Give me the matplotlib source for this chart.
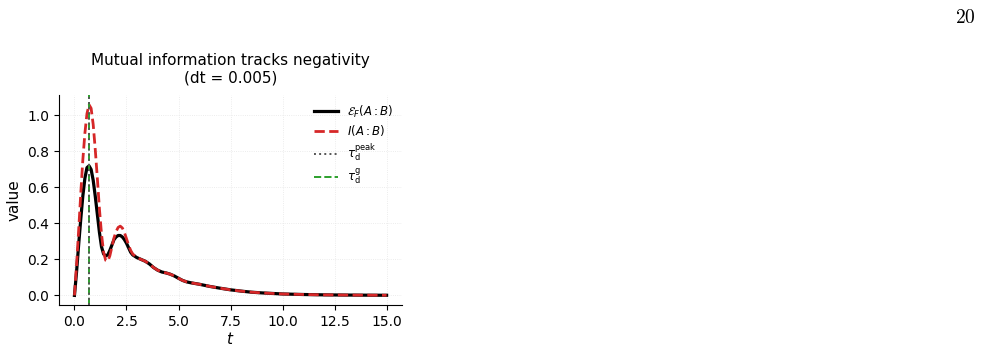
import matplotlib
matplotlib.use("Agg")
import matplotlib.pyplot as plt

t_vals = [0, 0.1, 0.2, 0.3, 0.4, 0.5, 0.6, 0.7, 0.8, 0.9, 1.0, 1.1, 1.2, 1.3, 1.4, 1.5,
          1.6, 1.7, 1.8, 1.9, 2.0, 2.1, 2.2, 2.3, 2.4, 2.5, 2.6, 2.7, 2.8, 3.0, 3.2, 3.4,
          3.6, 3.8, 4.0, 4.2, 4.4, 4.6, 4.8, 5.0, 5.2, 5.4, 5.6, 6.0, 6.5, 7.0, 7.5, 8.0,
          8.5, 9.0, 9.5, 10, 11, 12, 13, 14, 15]
neg_vals = [0, 0.13, 0.28, 0.42, 0.55, 0.65, 0.71, 0.72, 0.70, 0.64, 0.55, 0.45, 0.35, 0.27,
            0.23, 0.22, 0.225, 0.25, 0.28, 0.31, 0.325, 0.333, 0.333, 0.325, 0.31, 0.29,
            0.265, 0.24, 0.225, 0.21, 0.20, 0.19, 0.175, 0.155, 0.14, 0.13, 0.125, 0.118,
            0.108, 0.095, 0.083, 0.075, 0.07, 0.062, 0.05, 0.04, 0.031, 0.024, 0.018, 0.014,
            0.011, 0.008, 0.005, 0.003, 0.002, 0.0013, 0.0008]
mi_vals = [0, 0.17, 0.36, 0.56, 0.75, 0.90, 1.01, 1.06, 1.04, 0.95, 0.81, 0.65, 0.48, 0.34,
           0.24, 0.195, 0.19, 0.22, 0.27, 0.32, 0.355, 0.378, 0.385, 0.375, 0.35, 0.315,
           0.28, 0.25, 0.23, 0.21, 0.20, 0.19, 0.175, 0.155, 0.14, 0.13, 0.125, 0.118,
           0.108, 0.095, 0.083, 0.075, 0.07, 0.062, 0.05, 0.04, 0.031, 0.024, 0.018, 0.014,
           0.011, 0.008, 0.005, 0.003, 0.002, 0.0013, 0.0008]
tau_peak = 0.72
tau_g = 0.72

fig = plt.figure(figsize=(9.81, 3.55), dpi=100)
ax = fig.add_axes([0.060, 0.141, 0.350, 0.591])

ax.plot(t_vals, neg_vals, color="black", lw=2.3, label=r"$\mathcal{E}_F(A:B)$", zorder=3)
ax.plot(t_vals, mi_vals, color="#d62728", lw=2.0, ls="--", label=r"$I(A:B)$", zorder=4)
ax.axvline(tau_peak, color="#555555", lw=1.4, ls=":", label=r"$\tau_{\rm d}^{\rm peak}$", zorder=6)
ax.axvline(tau_g, color="#2ca02c", lw=1.4, ls="--", label=r"$\tau_{\rm d}^{\rm g}$", zorder=5)

ax.set_xticks([0, 2.5, 5, 7.5, 10, 12.5, 15])
ax.set_yticks([0, 0.2, 0.4, 0.6, 0.8, 1.0])
ax.tick_params(labelsize=10, direction="out", length=3.5)
ax.grid(True, ls=":", lw=0.6, color="#e6e6e6")
for s in ("top", "right"):
    ax.spines[s].set_visible(False)
ax.set_xlabel(r"$t$", fontsize=11, labelpad=2)
ax.set_ylabel("value", fontsize=11)
ax.set_title("Mutual information tracks negativity\n(dt = 0.005)", fontsize=11, pad=9)
ax.legend(loc="upper right", frameon=False, fontsize=8.5, handlelength=2.0,
          labelspacing=0.3, borderaxespad=0.3)

fig.text(0.995, 0.95, r"$20$", ha="right", va="center", fontsize=14, math_fontfamily="cm")

fig.savefig("out.png", dpi=100)
